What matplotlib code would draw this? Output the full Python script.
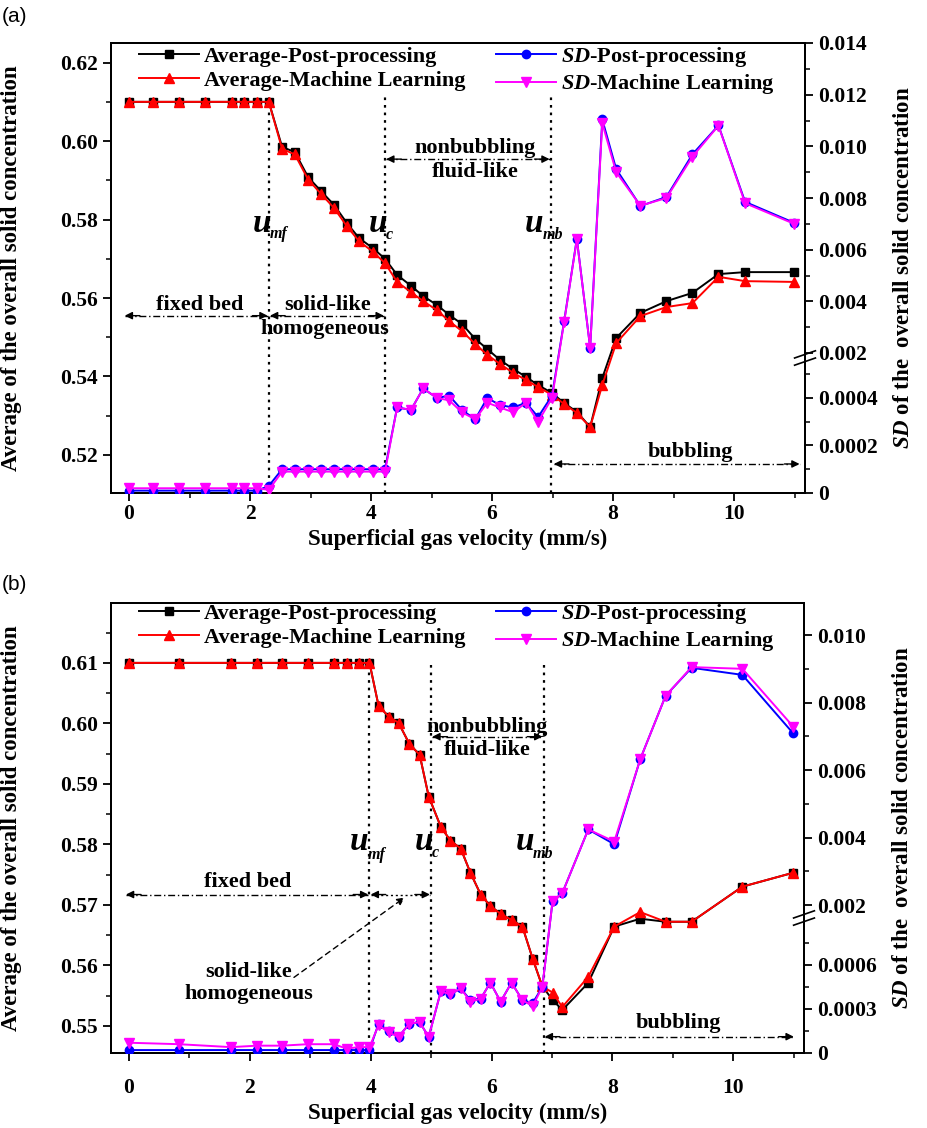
import numpy as np
import matplotlib
matplotlib.use("Agg")
import matplotlib.pyplot as plt
from matplotlib.ticker import FixedLocator, NullFormatter

plt.rcParams['font.family'] = ['Liberation Serif', 'DejaVu Serif']
plt.rcParams['font.weight'] = 'bold'
plt.rcParams['mathtext.fontset'] = 'custom'
plt.rcParams['mathtext.it'] = 'Liberation Serif:italic:bold'
plt.rcParams['mathtext.rm'] = 'Liberation Serif:bold'
plt.rcParams['mathtext.bf'] = 'Liberation Serif:bold'

# ---------------- data panel (a) ----------------
xa = [0, 0.40, 0.83, 1.26, 1.70, 1.90, 2.12, 2.31, 2.53, 2.74, 2.96, 3.17, 3.39, 3.60,
      3.80, 4.03, 4.23, 4.43, 4.66, 4.86, 5.09, 5.29, 5.50, 5.72, 5.92, 6.13, 6.35, 6.56,
      6.76, 6.99, 7.19, 7.40, 7.62, 7.82, 8.05, 8.45, 8.88, 9.31, 9.74, 10.18, 10.99]
avg_pp_a = [0.61, 0.61, 0.61, 0.61, 0.61, 0.61, 0.61, 0.61,
            0.5985, 0.5972, 0.5908, 0.5873, 0.5837, 0.5791, 0.5753, 0.5727, 0.5700,
            0.5659, 0.5631, 0.5605, 0.5582, 0.5557, 0.5534, 0.5496, 0.5470, 0.5442, 0.5419,
            0.5399, 0.5378, 0.5358,
            0.5332, 0.5310, 0.5271, 0.5396, 0.5498, 0.5562, 0.5592, 0.5613, 0.5661, 0.5666, 0.5666]
avg_ml_a = [0.61, 0.61, 0.61, 0.61, 0.61, 0.61, 0.61, 0.61,
            0.5980, 0.5966, 0.5902, 0.5866, 0.5829, 0.5783, 0.5745, 0.5718, 0.5689,
            0.5641, 0.5615, 0.5592, 0.5569, 0.5541, 0.5516, 0.5483, 0.5455, 0.5432, 0.5409,
            0.5391, 0.5373, 0.5353,
            0.5330, 0.5307, 0.5271, 0.5378, 0.5485, 0.5554, 0.5577, 0.5587, 0.5654, 0.5643, 0.5641]
sd_pp_a = [0.00001, 0.00001, 0.00001, 0.00001, 0.00001, 0.00001, 0.00001, 0.00003,
           0.0001, 0.0001, 0.0001, 0.0001, 0.0001, 0.0001, 0.0001, 0.0001, 0.0001,
           0.00036, 0.00035, 0.00044, 0.00040, 0.00041, 0.00035, 0.00031, 0.00040, 0.00037,
           0.00036, 0.00038, 0.00032, 0.00041,
           0.00323, 0.00642, 0.0022, 0.01104, 0.00912, 0.00769, 0.00804, 0.00969, 0.01081,
           0.00785, 0.00704]
sd_ml_a = [0.00002, 0.00002, 0.00002, 0.00002, 0.00002, 0.00002, 0.00002, 0.000013,
           0.00009, 0.00009, 0.00009, 0.00009, 0.00009, 0.00009, 0.00009, 0.00009, 0.00009,
           0.00036, 0.00035, 0.00044, 0.00040, 0.00039, 0.00034, 0.00031, 0.00038, 0.00036,
           0.00034, 0.00038, 0.00030, 0.00040,
           0.0032, 0.0064, 0.0022, 0.0109, 0.0090, 0.0077, 0.0080, 0.0096, 0.0108, 0.0078, 0.0070]

# ---------------- data panel (b) ----------------
xb = [0, 0.83, 1.69, 2.12, 2.53, 2.96, 3.39, 3.60, 3.80, 3.98, 4.13, 4.30, 4.46, 4.64,
      4.81, 4.96, 5.16, 5.32, 5.49, 5.65, 5.82, 5.98, 6.15, 6.33, 6.51, 6.68, 6.84, 7.01,
      7.17, 7.60, 8.03, 8.46, 8.88, 9.31, 10.15, 10.99]
avg_pp_b = [0.61] * 10 + [0.6029, 0.6011, 0.6001, 0.5966, 0.5948, 0.5879,
                          0.5829, 0.5806, 0.5793, 0.5753, 0.5717, 0.5698, 0.5685, 0.5675,
                          0.5664, 0.5611, 0.5565,
                          0.5543, 0.5526, 0.5571, 0.5664, 0.5677, 0.5672, 0.5672, 0.5730, 0.5753]
avg_ml_b = [0.61] * 10 + [0.6029, 0.6011, 0.6001, 0.5966, 0.5948, 0.5879,
                          0.5829, 0.5806, 0.5793, 0.5753, 0.5717, 0.5698, 0.5685, 0.5675,
                          0.5664, 0.5611, 0.5565,
                          0.5555, 0.5531, 0.5581, 0.5664, 0.5688, 0.5672, 0.5672, 0.5730, 0.5753]
sd_pp_b = [0.00002] * 10 + [0.00020, 0.00015, 0.00011, 0.00020, 0.00021, 0.00011,
                            0.00042, 0.00040, 0.00044, 0.00036, 0.00037, 0.00048, 0.00035,
                            0.00048, 0.00036, 0.00034, 0.00045,
                            0.00212, 0.00235, 0.00424, 0.00380, 0.00632, 0.00820, 0.00903,
                            0.00882, 0.00709]
sd_ml_b = [0.00007, 0.00006, 0.00004, 0.00005, 0.00005, 0.00006, 0.00006, 0.00003, 0.00004,
           0.00004,
           0.00019, 0.00014, 0.00011, 0.00020, 0.00021, 0.00011,
           0.00042, 0.00040, 0.00044, 0.00035, 0.00037, 0.00048, 0.00035,
           0.00048, 0.00036, 0.00032, 0.00045,
           0.00212, 0.00235, 0.00424, 0.00388, 0.00632, 0.00820, 0.00905,
           0.00900, 0.00729]

xticks = [0, 2, 4, 6, 8, 10]
yticks_a = [0.52, 0.54, 0.56, 0.58, 0.60, 0.62]
yticks_b = [0.55, 0.56, 0.57, 0.58, 0.59, 0.60, 0.61, 0.62]
sdticks_a = [0, 0.0002, 0.0004, 0.002, 0.004, 0.006, 0.008, 0.010, 0.012, 0.014]
sdlabels_a = ['0', '0.0002', '0.0004', '0.002', '0.004', '0.006', '0.008', '0.010', '0.012', '0.014']
sdticks_b = [0, 0.0003, 0.0006, 0.002, 0.004, 0.006, 0.008, 0.010]
sdlabels_b = ['0', '0.0003', '0.0006', '0.002', '0.004', '0.006', '0.008', '0.010']

W, H = 927, 1128
fig = plt.figure(figsize=(W / 100, H / 100), dpi=100)

def make_axes(left, right, top, bottom):
    return fig.add_axes([left / W, 1 - bottom / H, (right - left) / W, (bottom - top) / H])

ax_a = make_axes(111, 805, 43, 493)
ax_b = make_axes(111, 804, 603, 1053)

def broken_scale(vals, pix):
    vals = np.asarray(vals, float)
    pix = np.asarray(pix, float)
    s0 = (pix[1] - pix[0]) / (vals[1] - vals[0])
    s1 = (pix[-1] - pix[-2]) / (vals[-1] - vals[-2])
    v = np.concatenate([[vals[0] - 1], vals, [vals[-1] + 1]])
    p = np.concatenate([[pix[0] - s0], pix, [pix[-1] + s1]])
    def fwd(x):
        return np.interp(x, v, p)
    def inv(y):
        return np.interp(y, p, v)
    return fwd, inv

TF = 15.5     # tick labels
LF = 16.5     # axis labels
AF = 16       # annotations / legend
tickfont = dict(family='Liberation Serif', weight='bold', size=TF)

def style(ax, ax2, ylim, yticks, ymin_step, sdt, sdl, sdmin, sdtop, xpad):
    ax.set_xlim(-0.2975, 11.17)
    ax.set_ylim(*ylim)
    ax.xaxis.set_major_locator(FixedLocator(xticks))
    ax.xaxis.set_minor_locator(FixedLocator([1, 3, 5, 7, 9, 11]))
    ax.yaxis.set_major_locator(FixedLocator(yticks))
    mins = np.arange(yticks[0] - ymin_step, yticks[-1] + ymin_step, 2 * ymin_step)
    ax.yaxis.set_minor_locator(FixedLocator(list(np.round(mins, 4))))
    ax.set_yticklabels([f'{t:.2f}' for t in yticks], fontdict=tickfont)
    ax.set_xticklabels([str(t) for t in xticks], fontdict=tickfont)
    ax.tick_params(which='major', direction='out', length=6, width=1.3)
    ax.tick_params(which='minor', direction='out', length=3.5, width=1.1)
    ax.tick_params(axis='x', pad=xpad)
    ax2.set_ylim(0, sdtop)
    ax2.yaxis.set_major_locator(FixedLocator(sdt))
    ax2.yaxis.set_minor_locator(FixedLocator(sdmin))
    ax2.yaxis.set_minor_formatter(NullFormatter())
    ax2.set_yticklabels(sdl, fontdict=tickfont)
    ax2.tick_params(which='major', direction='out', length=6, width=1.3)
    ax2.tick_params(which='minor', direction='out', length=3.5, width=1.1)
    for a in (ax, ax2):
        for s in a.spines.values():
            s.set_linewidth(1.4)
    ax.set_xlabel('Superficial gas velocity (mm/s)', fontsize=LF, fontweight='bold')
    ax.set_ylabel('Average of the overall solid concentration', fontsize=LF, fontweight='bold')
    ax.yaxis.set_label_coords(-0.128, 0.5)
    ax2.set_ylabel(r'$\mathit{SD}$ of the  overall solid concentration', fontsize=LF,
                   fontweight='bold', rotation=90)
    ax2.yaxis.set_label_coords(1.127, 0.5)
    # break marks on right spine
    for dy in (-0.008, 0.008):
        ax2.plot([0.985, 1.015], [0.292 + dy, 0.308 + dy], transform=ax2.transAxes,
                 color='k', lw=1.2, clip_on=False, zorder=10)

def draw_series(ax, ax2, x, app, aml, spp, sml):
    l1, = ax.plot(x, app, color='black', lw=1.4, marker='s', ms=5.5, mec='black', zorder=3,
                  label='Average-Post-processing')
    l2, = ax.plot(x, aml, color='red', lw=1.4, marker='^', ms=7, mec='red', zorder=4,
                  label='Average-Machine Learning')
    l3, = ax2.plot(x, spp, color='blue', lw=1.4, marker='o', ms=6, mec='blue', zorder=3,
                   label=r'$\mathit{SD}$-Post-processing')
    l4, = ax2.plot(x, sml, color='magenta', lw=1.4, marker='v', ms=7, mec='magenta', zorder=4,
                   label=r'$\mathit{SD}$-Machine Learning')
    return [l1, l2, l3, l4]

def vline(ax, x, y0, y1):
    ax.plot([x, x], [y0, y1], color='k', ls=(0, (1.2, 2.2)), lw=1.6, zorder=2)

def harrow(ax, x0, x1, y, ls=(0, (5, 2, 1, 2)), lw=1.0, hl=0.25):
    ax.plot([x0, x1], [y, y], color='k', ls=ls, lw=lw, zorder=2)
    for xa_, xb_ in ((x0, x0 + hl), (x1, x1 - hl)):
        ax.annotate('', xy=(xa_, y), xytext=(xb_, y),
                    arrowprops=dict(arrowstyle='-|>', color='k', lw=1.0, mutation_scale=11,
                                    shrinkA=0, shrinkB=0))

def ulabel(ax, x, y, sub, xs, ys):
    ax.text(x, y, 'u', fontsize=24, fontstyle='italic', fontweight='bold', ha='center',
            va='center', zorder=6)
    ax.text(xs, ys, sub, fontsize=11.5, fontstyle='italic', fontweight='bold', ha='left',
            va='center', zorder=6)

def label(ax, x, y, s):
    ax.text(x, y, s, fontsize=AF, fontweight='bold', ha='center', va='center', zorder=6)

# ---------------- panel (a) ----------------
ax_a2 = ax_a.twinx()
fa, ia = broken_scale([0, 0.00057, 0.002, 0.014], [0, 135.4, 140, 450])
ax_a2.set_yscale('function', functions=(fa, ia))
style(ax_a, ax_a2, (0.5103, 0.6250), yticks_a, 0.01, sdticks_a, sdlabels_a,
      [0.0001, 0.0003, 0.0005, 0.003, 0.005, 0.007, 0.009, 0.011, 0.013], 0.014, 2)
ax_a.xaxis.set_label_coords(0.5, -0.079)
hand = draw_series(ax_a, ax_a2, xa, avg_pp_a, avg_ml_a, sd_pp_a, sd_ml_a)
for xv in (2.31, 4.23, 6.97):
    vline(ax_a, xv, 0.5103, 0.6117)
ulabel(ax_a, 2.20, 0.5790, 'mf', 2.33, 0.5762)
ulabel(ax_a, 4.12, 0.5790, 'c', 4.25, 0.5760)
ulabel(ax_a, 6.70, 0.5790, 'mb', 6.83, 0.5760)
label(ax_a, 1.17, 0.5582, 'fixed bed')
harrow(ax_a, -0.07, 2.29, 0.5555)
label(ax_a, 3.29, 0.5582, 'solid-like')
label(ax_a, 3.23, 0.5520, 'homogeneous')
harrow(ax_a, 2.33, 4.21, 0.5555)
label(ax_a, 5.72, 0.5982, 'nonbubbling')
label(ax_a, 5.72, 0.5921, 'fluid-like')
harrow(ax_a, 4.25, 6.95, 0.5954)
label(ax_a, 9.27, 0.5208, 'bubbling')
harrow(ax_a, 7.02, 11.08, 0.5177)
leg = ax_a2.legend(handles=hand, ncol=2, loc='upper left', bbox_to_anchor=(0.028, 1.015),
                   frameon=False, fontsize=AF, handlelength=2.7, columnspacing=1.4,
                   labelspacing=0.15, handletextpad=0.2, borderaxespad=0)
for t in leg.get_texts():
    t.set_fontweight('bold')

# ---------------- panel (b) ----------------
ax_b2 = ax_b.twinx()
fb, ib = broken_scale([0, 0.0009, 0.0016, 0.01095], [0, 132, 134.5, 450])
ax_b2.set_yscale('function', functions=(fb, ib))
style(ax_b, ax_b2, (0.5455, 0.6199), yticks_b, 0.005, sdticks_b, sdlabels_b,
      [0.00015, 0.00045, 0.00075, 0.003, 0.005, 0.007, 0.009], 0.01095, 12)
ax_b.xaxis.set_label_coords(0.5, -0.11)
hand = draw_series(ax_b, ax_b2, xb, avg_pp_b, avg_ml_b, sd_pp_b, sd_ml_b)
for xv in (3.98, 5.0, 6.86):
    vline(ax_b, xv, 0.5455, 0.6097)
ulabel(ax_b, 3.81, 0.5805, 'mf', 3.95, 0.5782)
ulabel(ax_b, 4.88, 0.5805, 'c', 5.01, 0.5786)
ulabel(ax_b, 6.55, 0.5805, 'mb', 6.68, 0.5784)
label(ax_b, 1.97, 0.5738, 'fixed bed')
harrow(ax_b, -0.05, 3.96, 0.5717)
harrow(ax_b, 4.0, 4.98, 0.5717, ls=(0, (1.5, 2)))
label(ax_b, 1.98, 0.5589, 'solid-like')
label(ax_b, 1.98, 0.5553, 'homogeneous')
ax_b.annotate('', xy=(4.56, 0.5712), xytext=(2.73, 0.5580),
              arrowprops=dict(arrowstyle='-|>', color='k', lw=1.0, ls=(0, (4, 3)),
                              mutation_scale=11, shrinkA=0, shrinkB=0))
label(ax_b, 5.93, 0.5994, 'nonbubbling')
label(ax_b, 5.93, 0.5956, 'fluid-like')
harrow(ax_b, 5.02, 6.84, 0.5978)
label(ax_b, 9.1, 0.5505, 'bubbling')
harrow(ax_b, 6.88, 11.0, 0.5482)
leg = ax_b2.legend(handles=hand, ncol=2, loc='upper left', bbox_to_anchor=(0.028, 1.022),
                   frameon=False, fontsize=AF, handlelength=2.7, columnspacing=1.4,
                   labelspacing=0.15, handletextpad=0.2, borderaxespad=0)
for t in leg.get_texts():
    t.set_fontweight('bold')

fig.text(2 / W, 1 - 16 / H, '(a)', fontsize=15, family='Liberation Sans', weight='normal',
         va='center', ha='left')
fig.text(2 / W, 1 - 585 / H, '(b)', fontsize=15, family='Liberation Sans', weight='normal',
         va='center', ha='left')

fig.savefig('out.png', dpi=100)
